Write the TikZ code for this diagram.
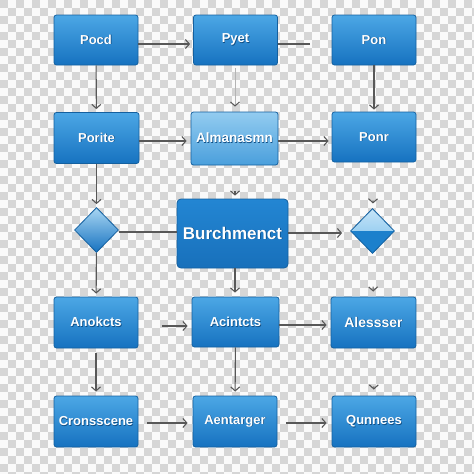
\documentclass[tikz,border=0pt]{standalone}
\usepackage{fontspec}
\setmainfont{Liberation Sans}
\usetikzlibrary{arrows.meta,shapes.geometric}
\definecolor{chk}{HTML}{D6D6D6}
\definecolor{chkw}{HTML}{FAFAFA}
\definecolor{btop}{HTML}{4CA7E5}
\definecolor{bbot}{HTML}{1672C0}
\definecolor{bdraw}{HTML}{14609F}
\definecolor{ltop}{HTML}{93CCF0}
\definecolor{lbot}{HTML}{4A9FDC}
\definecolor{ctop}{HTML}{2386D3}
\definecolor{cbot}{HTML}{1870BB}
\definecolor{dlight}{HTML}{C6E5F8}
\definecolor{dlight2}{HTML}{74BBEA}
\definecolor{ddark}{HTML}{1C80CC}
\definecolor{shad}{HTML}{0F4E85}
\definecolor{conn}{HTML}{585858}
\newcommand\shtext[1]{\makebox[0pt][l]{\raisebox{-0.7pt}{\hspace{0.7pt}\textcolor{shad}{#1}}}#1}
\tikzset{
  boxnode/.style={rectangle, rounded corners=2.5pt, draw=bdraw, line width=0.8pt,
    top color=btop, bottom color=bbot, minimum width=84pt, minimum height=50pt,
    inner sep=1pt, text=white, font=\fontsize{13}{15}\selectfont\bfseries},
  lightbox/.style={boxnode, top color=ltop, bottom color=lbot},
  bigbox/.style={boxnode, top color=ctop, bottom color=cbot, minimum width=111pt,
    minimum height=69pt, rounded corners=4pt, font=\fontsize{17}{19}\selectfont\bfseries},
  dia/.style={diamond, draw=bdraw, line width=0.8pt, inner sep=0pt,
    minimum width=44pt, minimum height=45pt},
  link/.style={draw=conn, line width=1.1pt, -{Straight Barb[length=4pt,width=9pt]}},
  plain/.style={draw=conn, line width=1.1pt},
  faint/.style={draw=conn!45, line width=1pt, -{Straight Barb[length=4pt,width=9pt,color=conn]}}
}
\begin{document}
\begin{tikzpicture}[x=1pt,y=-1pt]
\useasboundingbox (0,0) rectangle (474,474);
\fill[chkw] (0,0) rectangle (474,474);
\foreach \j in {0,...,59}{
  \pgfmathtruncatemacro\off{mod(\j,2)*8}
  \foreach \i in {0,16,...,464}{
    \fill[chk] (\i+\off,\j*8) rectangle ++(8,8);
  }
}
% row 1
\node[boxnode] (pocd) at (96,40) {\shtext{Pocd}};
\node[boxnode] (pyet) at (235.5,40) {\shtext{Pyet}};
\node[boxnode] (pon) at (374,40) {\shtext{Pon}};
% row 2
\node[boxnode, minimum width=85pt, minimum height=51pt] (porite) at (96.5,138) {\shtext{Porite}};
\node[lightbox, minimum width=87pt, minimum height=53pt, font=\fontsize{13.5}{15}\selectfont\bfseries] (alman) at (234.5,138.5) {\shtext{Almanasmn}};
\node[boxnode] (ponr) at (374,137) {\shtext{Ponr}};
% row 3
\node[dia, top color=ltop!80!white, bottom color=bbot] (dl) at (96.5,230) {};
\node[bigbox] (burch) at (232.5,233.5) {\shtext{Burchmenct}};
\node[dia, fill=ddark, path picture={\shade[top color=dlight, bottom color=dlight2] (path picture bounding box.north west) rectangle ([yshift=1pt]path picture bounding box.east);}] (dr) at (372.5,231) {};
% row 4
\node[boxnode, minimum height=51pt] (anok) at (96,322.5) {\shtext{Anokcts}};
\node[boxnode, minimum width=87pt] (acin) at (235.5,322) {\shtext{Acintcts}};
\node[boxnode, minimum width=85pt, minimum height=51pt, font=\fontsize{14}{16}\selectfont\bfseries] (ales) at (373.5,322.5) {\shtext{Alessser}};
% row 5
\node[boxnode, minimum height=51pt] (cron) at (96,421.5) {\shtext{Cronsscene}};
\node[boxnode, minimum height=51pt] (aent) at (235,421.5) {\shtext{Aentarger}};
\node[boxnode, minimum height=51pt] (qunn) at (374,421.5) {\shtext{Qunnees}};
\coordinate (pyetend) at (310,44);
% connectors row 1
\draw[link, shorten >=3pt] (pocd.east |- 0,44) -- (pyet.west |- 0,44);
\draw[plain] (pyet.east |- 0,44) -- (pyetend);
\draw[link, shorten >=3pt] (pocd) -- (porite);
\draw[faint, shorten <=3pt, shorten >=5pt] (pyet.south -| 235,0) -- (alman.north -| 235,0);
\draw[link, shorten >=2pt] (pon) -- (ponr);
% row 2
\draw[link, shorten >=4pt] (porite.east |- 0,141) -- (alman.west |- 0,141);
\draw[link, shorten >=3pt] (alman.east |- 0,141) -- (ponr.west |- 0,141);
\draw[link, shorten >=3pt] (porite) -- (dl);
\draw[link, shorten <=26pt, shorten >=3pt] (alman.south -| 235,0) -- (burch.north -| 235,0);
\draw[link, shorten <=38pt, shorten >=5pt] (ponr) -- (dr);
% row 3
\draw[plain] (dl.east |- 0,232) -- (burch.west |- 0,232);
\draw[link, shorten >=8pt] (burch.east |- 0,233) -- (dr.west |- 0,233);
\draw[link, shorten >=3pt] (dl) -- (anok);
\draw[link, shorten >=4pt] (burch.south -| 235,0) -- (acin.north -| 235,0);
\draw[link, shorten <=33pt, shorten >=5pt] (dr) -- (ales);
% row 4
\draw[link, shorten <=24pt, shorten >=4pt] (anok.east |- 0,326) -- (acin.west |- 0,326);
\draw[link, shorten >=4pt] (acin.east |- 0,325) -- (ales.west |- 0,325);
\draw[link, shorten <=5pt, shorten >=4pt] (anok) -- (cron);
\draw[link, shorten >=4pt] (acin) -- (aent);
\draw[link, shorten <=38pt, shorten >=6pt] (ales) -- (qunn);
% row 5
\draw[link, shorten <=9pt, shorten >=5pt] (cron.east |- 0,423) -- (aent.west |- 0,423);
\draw[link, shorten <=9pt, shorten >=5pt] (aent.east |- 0,423) -- (qunn.west |- 0,423);
\end{tikzpicture}
\end{document}
